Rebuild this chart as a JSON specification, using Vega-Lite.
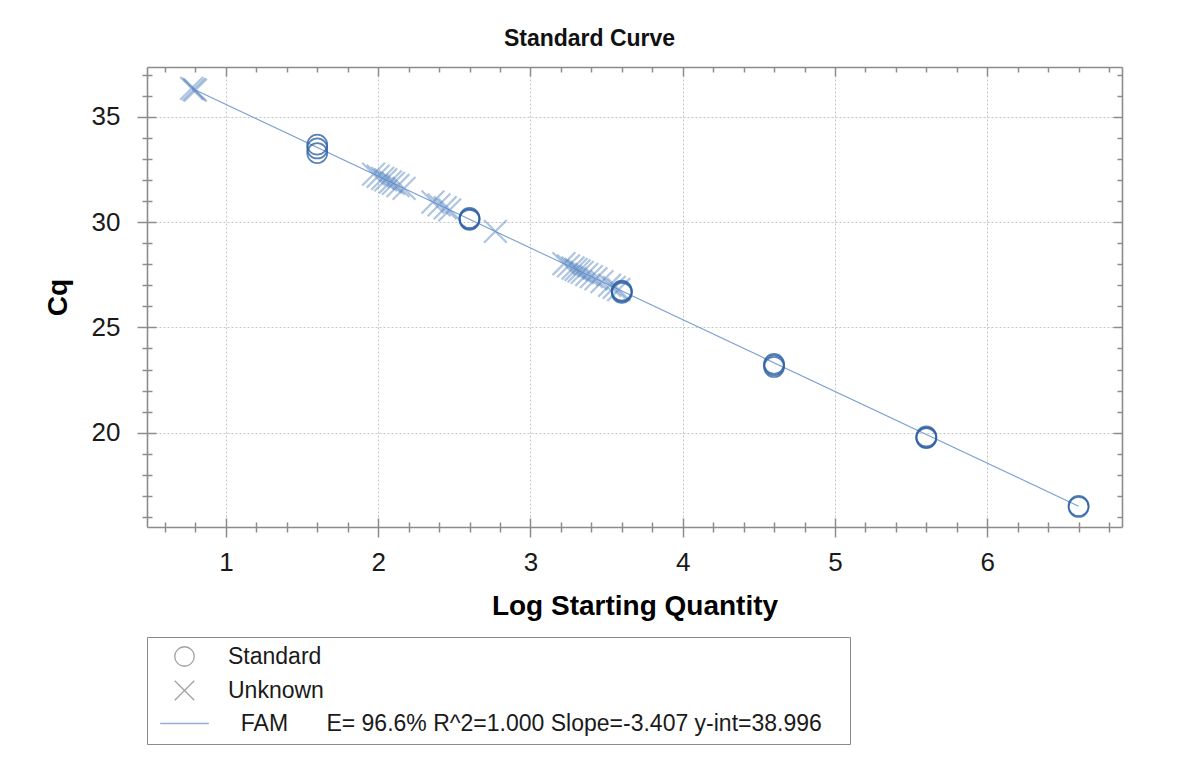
{
  "$schema": "https://vega.github.io/schema/vega-lite/v6.json",
  "width": 975,
  "height": 460,
  "autosize": "none",
  "padding": {"left": 147, "top": 67, "right": 62, "bottom": 239},
  "background": "white",
  "title": {
    "text": "Standard Curve",
    "fontSize": 23,
    "fontWeight": "bold",
    "color": "#111111",
    "anchor": "middle",
    "dx": -45,
    "offset": 11
  },
  "datasets": {
    "samples": [
      {"type": "Standard", "lsq": 1.6, "cq": 33.68},
      {"type": "Standard", "lsq": 1.6, "cq": 33.5},
      {"type": "Standard", "lsq": 1.6, "cq": 33.28},
      {"type": "Standard", "lsq": 2.6, "cq": 30.2},
      {"type": "Standard", "lsq": 2.6, "cq": 30.15},
      {"type": "Standard", "lsq": 2.6, "cq": 30.11},
      {"type": "Standard", "lsq": 3.6, "cq": 26.75},
      {"type": "Standard", "lsq": 3.6, "cq": 26.7},
      {"type": "Standard", "lsq": 3.6, "cq": 26.64},
      {"type": "Standard", "lsq": 4.6, "cq": 23.27},
      {"type": "Standard", "lsq": 4.6, "cq": 23.2},
      {"type": "Standard", "lsq": 4.6, "cq": 23.12},
      {"type": "Standard", "lsq": 5.6, "cq": 19.82},
      {"type": "Standard", "lsq": 5.6, "cq": 19.77},
      {"type": "Standard", "lsq": 5.6, "cq": 19.74},
      {"type": "Standard", "lsq": 6.6, "cq": 16.52},
      {"type": "Standard", "lsq": 6.6, "cq": 16.47},
      {"type": "Unknown", "lsq": 0.775, "cq": 36.356},
      {"type": "Unknown", "lsq": 0.79, "cq": 36.304},
      {"type": "Unknown", "lsq": 0.8, "cq": 36.27},
      {"type": "Unknown", "lsq": 1.97, "cq": 32.284},
      {"type": "Unknown", "lsq": 2.0, "cq": 32.182},
      {"type": "Unknown", "lsq": 2.03, "cq": 32.08},
      {"type": "Unknown", "lsq": 2.05, "cq": 32.012},
      {"type": "Unknown", "lsq": 2.08, "cq": 31.909},
      {"type": "Unknown", "lsq": 2.1, "cq": 31.841},
      {"type": "Unknown", "lsq": 2.13, "cq": 31.739},
      {"type": "Unknown", "lsq": 2.17, "cq": 31.603},
      {"type": "Unknown", "lsq": 2.36, "cq": 30.955},
      {"type": "Unknown", "lsq": 2.4, "cq": 30.819},
      {"type": "Unknown", "lsq": 2.44, "cq": 30.683},
      {"type": "Unknown", "lsq": 2.47, "cq": 30.581},
      {"type": "Unknown", "lsq": 2.77, "cq": 29.559},
      {"type": "Unknown", "lsq": 3.22, "cq": 28.025},
      {"type": "Unknown", "lsq": 3.25, "cq": 27.923},
      {"type": "Unknown", "lsq": 3.28, "cq": 27.821},
      {"type": "Unknown", "lsq": 3.3, "cq": 27.753},
      {"type": "Unknown", "lsq": 3.32, "cq": 27.685},
      {"type": "Unknown", "lsq": 3.34, "cq": 27.617},
      {"type": "Unknown", "lsq": 3.37, "cq": 27.514},
      {"type": "Unknown", "lsq": 3.4, "cq": 27.412},
      {"type": "Unknown", "lsq": 3.43, "cq": 27.31},
      {"type": "Unknown", "lsq": 3.47, "cq": 27.174},
      {"type": "Unknown", "lsq": 3.52, "cq": 27.003},
      {"type": "Unknown", "lsq": 3.55, "cq": 26.901},
      {"type": "Unknown", "lsq": 3.58, "cq": 26.799}
    ],
    "fit": [
      {"lsq": 0.775, "cq": 36.356},
      {"lsq": 6.6, "cq": 16.51}
    ]
  },
  "layer": [
    {
      "data": {"name": "fit"},
      "mark": {"type": "line", "color": "#7a9fcf", "strokeWidth": 1.1},
      "encoding": {
        "x": {
          "field": "lsq", "type": "quantitative",
          "scale": {"domain": [0.482, 6.885], "zero": false, "nice": false},
          "axis": {
            "orient": "top", "title": null, "labels": false, "grid": false,
            "values": [0.6,0.8,1,1.2,1.4,1.6,1.8,2,2.2,2.4,2.6,2.8,3,3.2,3.4,3.6,3.8,4,4.2,4.4,4.6,4.8,5,5.2,5.4,5.6,5.8,6,6.2,6.4,6.6,6.8],
            "tickSize": {"condition": {"test": "abs(datum.value - round(datum.value)) < 0.01", "value": -9}, "value": -5}
          }
        },
        "y": {
          "field": "cq", "type": "quantitative",
          "scale": {"domain": [15.52, 37.37], "zero": false, "nice": false},
          "axis": {
            "orient": "right", "title": null, "labels": false, "grid": false,
            "values": [16,17,18,19,20,21,22,23,24,25,26,27,28,29,30,31,32,33,34,35,36,37],
            "tickSize": {"condition": {"test": "datum.value % 5 === 0", "value": -9}, "value": -5}
          }
        }
      }
    },
    {
      "data": {"name": "samples"},
      "transform": [{"filter": "datum.type === 'Unknown'"}],
      "mark": {"type": "point", "filled": false, "color": "#4f80bf", "strokeWidth": 2.2, "opacity": 0.45, "size": 520},
      "encoding": {
        "x": {
          "field": "lsq", "type": "quantitative",
          "scale": {"domain": [0.482, 6.885], "zero": false, "nice": false},
          "axis": {
            "orient": "bottom", "title": null, "labels": false, "grid": false, "domain": false,
            "values": [0.6,0.8,1,1.2,1.4,1.6,1.8,2,2.2,2.4,2.6,2.8,3,3.2,3.4,3.6,3.8,4,4.2,4.4,4.6,4.8,5,5.2,5.4,5.6,5.8,6,6.2,6.4,6.6,6.8],
            "tickSize": {"condition": {"test": "abs(datum.value - round(datum.value)) < 0.01", "value": -9}, "value": -5}
          }
        },
        "y": {
          "field": "cq", "type": "quantitative",
          "scale": {"domain": [15.52, 37.37], "zero": false, "nice": false},
          "axis": {
            "orient": "left", "title": null, "labels": false, "grid": false, "domain": false,
            "values": [16,17,18,19,20,21,22,23,24,25,26,27,28,29,30,31,32,33,34,35,36,37],
            "tickSize": {"condition": {"test": "datum.value % 5 === 0", "value": -9}, "value": -5}
          }
        },
        "shape": {
          "field": "type", "type": "nominal",
          "scale": {
            "domain": ["Standard", "Unknown", "FAM"],
            "range": ["circle", "M-1,-1L1,1M-1,1L1,-1", "M-2.5,0L2.5,0"]
          },
          "legend": {
            "labelExpr": "datum.value === 'FAM' ? '\u200b\u00a0\u00a0FAM\u00a0\u00a0\u00a0\u00a0\u00a0\u00a0E= 96.6% R^2=1.000 Slope=-3.407 y-int=38.996\u00a0\u00a0\u00a0\u200b' : datum.label",
            "symbolStrokeColor": {"expr": "datum.value === 'FAM' ? '#8fb0d8' : '#a0a0a0'"}
          }
        }
      }
    },
    {
      "data": {"name": "samples"},
      "transform": [{"filter": "datum.type === 'Standard'"}],
      "mark": {"type": "point", "filled": false, "color": "#2f63a6", "strokeWidth": 1.7, "opacity": 0.8, "size": 400},
      "encoding": {
        "x": {
          "field": "lsq", "type": "quantitative",
          "scale": {"domain": [0.482, 6.885], "zero": false, "nice": false},
          "axis": {
            "orient": "bottom",
            "title": "Log Starting Quantity",
            "titleFontSize": 28, "titleFontWeight": "bold", "titleColor": "#000000", "titlePadding": 17,
            "values": [0.6,0.8,1,1.2,1.4,1.6,1.8,2,2.2,2.4,2.6,2.8,3,3.2,3.4,3.6,3.8,4,4.2,4.4,4.6,4.8,5,5.2,5.4,5.6,5.8,6,6.2,6.4,6.6,6.8],
            "labelExpr": "abs(datum.value - round(datum.value)) < 0.01 ? format(datum.value, 'd') : ''",
            "labelFontSize": 26, "labelColor": "#1a1a1a", "labelPadding": 12,
            "labelFlush": false, "labelOverlap": false,
            "tickSize": {"condition": {"test": "abs(datum.value - round(datum.value)) < 0.01", "value": 10}, "value": 5},
            "grid": true,
            "gridOpacity": {"condition": {"test": "abs(datum.value - round(datum.value)) < 0.01", "value": 1}, "value": 0}
          }
        },
        "y": {
          "field": "cq", "type": "quantitative",
          "scale": {"domain": [15.52, 37.37], "zero": false, "nice": false},
          "axis": {
            "orient": "left",
            "title": "Cq",
            "titleFontSize": 28, "titleFontWeight": "bold", "titleColor": "#000000", "titlePadding": 19,
            "values": [16,17,18,19,20,21,22,23,24,25,26,27,28,29,30,31,32,33,34,35,36,37],
            "labelExpr": "datum.value % 5 === 0 ? datum.label : ''",
            "labelFontSize": 26, "labelColor": "#1a1a1a", "labelPadding": 17,
            "labelOverlap": false,
            "tickSize": {"condition": {"test": "datum.value % 5 === 0", "value": 10}, "value": 5},
            "grid": true,
            "gridOpacity": {"condition": {"test": "datum.value % 5 === 0", "value": 1}, "value": 0}
          }
        },
        "shape": {
          "field": "type", "type": "nominal",
          "scale": {
            "domain": ["Standard", "Unknown", "FAM"],
            "range": ["circle", "M-1,-1L1,1M-1,1L1,-1", "M-2.5,0L2.5,0"]
          },
          "legend": {
            "labelExpr": "datum.value === 'FAM' ? '\u200b\u00a0\u00a0FAM\u00a0\u00a0\u00a0\u00a0\u00a0\u00a0E= 96.6% R^2=1.000 Slope=-3.407 y-int=38.996\u00a0\u00a0\u00a0\u200b' : datum.label",
            "symbolStrokeColor": {"expr": "datum.value === 'FAM' ? '#8fb0d8' : '#a0a0a0'"}
          }
        }
      }
    }
  ],
  "resolve": {"axis": {"x": "independent", "y": "independent"}},
  "config": {
    "font": "Liberation Sans",
    "view": {"stroke": null},
    "axis": {
      "domainColor": "#8c8c8c",
      "domainWidth": 1.6,
      "tickColor": "#8c8c8c",
      "tickWidth": 1.5,
      "gridColor": "#c4c4c4",
      "gridDash": [2, 2],
      "gridWidth": 1,
      "offset": 0
    },
    "legend": {
      "orient": "none",
      "legendX": 0,
      "legendY": 570,
      "direction": "vertical",
      "title": null,
      "strokeColor": "#8a8a8a",
      "fillColor": "white",
      "padding": 8,
      "symbolOffset": 18,
      "symbolSize": 380,
      "symbolStrokeWidth": 1.3,
      "symbolFillColor": "transparent",
      "symbolOpacity": 1,
      "labelOffset": 32,
      "labelFontSize": 23,
      "labelColor": "#1a1a1a",
      "labelLimit": 900,
      "rowPadding": 9
    }
  }
}
